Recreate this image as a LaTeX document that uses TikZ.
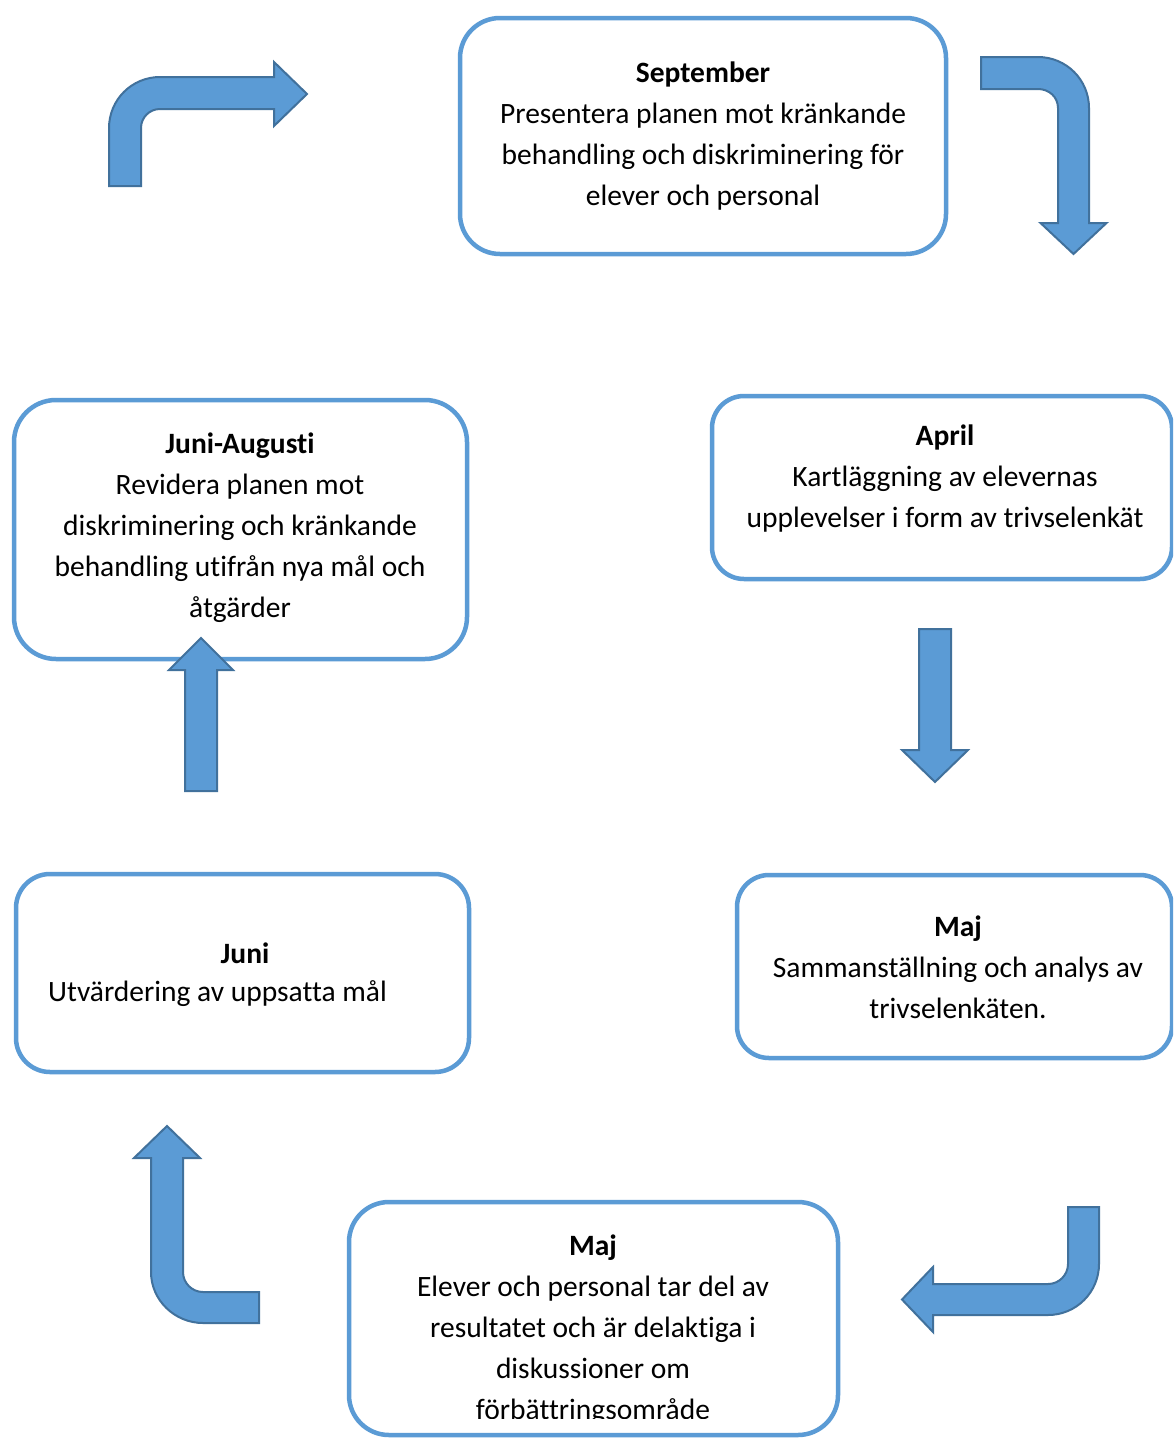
\documentclass[tikz,border=0pt]{standalone}
\usepackage{fontspec}
\setmainfont{Carlito}[Ligatures=NoCommon]
\definecolor{boxblue}{HTML}{5B9BD5}
\definecolor{arrowedge}{HTML}{41719C}
\begin{document}
\begin{tikzpicture}[x=1pt,y=-1pt,
  roundbox/.style={draw=boxblue, line width=4.5pt, fill=white, rounded corners=#1, inner sep=0pt},
  boxtext/.style={font=\fontsize{29.5}{41}\selectfont, align=center, inner sep=0pt},
  blockarrow/.style={fill=boxblue, draw=arrowedge, line width=2pt, line join=miter}]
\useasboundingbox (0,0) rectangle (1173,1438);
\fill[white] (0,0) rectangle (1173,1438);
\clip (0,0) rectangle (1173,1438);

% boxes
\node[roundbox=40pt, minimum width=486pt, minimum height=236pt] (sepbox) at (703,136) {};
\node[roundbox=32pt, minimum width=460pt, minimum height=183pt] (aprbox) at (942,487.5) {};
\node[roundbox=32pt, minimum width=435pt, minimum height=183pt] (majabox) at (954.5,966.5) {};
\node[roundbox=42pt, minimum width=453pt, minimum height=259pt] (jabox) at (240.5,529.5) {};
\node[roundbox=34pt, minimum width=453pt, minimum height=198pt] (junbox) at (242.5,973) {};
\node[roundbox=40pt, minimum width=489pt, minimum height=233pt] (majbbox) at (593.5,1318.5) {};

% texts
\node[boxtext] (septext) at (703,136.5) {\textbf{September}\\Presentera planen mot kränkande\\behandling och diskriminering för\\elever och personal};
\node[boxtext] (aprtext) at (945,479) {\textbf{April}\\Kartläggning av elevernas\\upplevelser i form av trivselenkät};
\node[boxtext] (majatext) at (958,967) {\textbf{Maj}\\Sammanställning och analys av\\trivselenkäten.};
\node[boxtext] (jatext) at (240,528) {\textbf{Juni-Augusti}\\Revidera planen mot\\diskriminering och kränkande\\behandling utifrån nya mål och\\åtgärder};
\node[boxtext] (juntitle) at (245,953) {\textbf{Juni}};
\node[boxtext, anchor=west] (juntext) at (48,994) {Utvärdering av uppsatta mål};
\begin{scope}
\clip (349,1202) rectangle (838,1418);
\node[boxtext] (majbtext) at (593,1330) {\textbf{Maj}\\Elever och personal tar del av\\resultatet och är delaktiga i\\diskussioner om\\förbättringsområde};
\end{scope}

% arrows
% top-left bent arrow (up then right)
\draw[blockarrow] (109,186) -- (109,128) .. controls (109,99.8) and (131.8,77) .. (160,77)
  -- (274,77) -- (274,62) -- (307,94) -- (274,126) -- (274,109) -- (160,109)
  .. controls (149.5,109) and (141,117.5) .. (141,128) -- (141,186) -- cycle;
% top-right bent arrow (right then down)
\draw[blockarrow] (981,57) -- (1038,57) .. controls (1066.2,57) and (1089,79.8) .. (1089,108)
  -- (1089,223) -- (1106.5,223) -- (1073.5,254) -- (1040.5,223) -- (1058,223) -- (1058,108)
  .. controls (1058,97) and (1049,89) .. (1038,89) -- (981,89) -- cycle;
% right straight down arrow
\draw[blockarrow] (919,629) -- (951,629) -- (951,750) -- (968,750) -- (935,782) -- (902,750) -- (919,750) -- cycle;
% left straight up arrow
\draw[blockarrow] (185,791) -- (217,791) -- (217,670) -- (233,670) -- (201,638) -- (169,670) -- (185,670) -- cycle;
% bottom-right bent arrow (down then left)
\draw[blockarrow] (1068,1207) -- (1099,1207) -- (1099,1264) .. controls (1099,1292.2) and (1076.2,1315) .. (1048,1315)
  -- (933,1315) -- (933,1332) -- (902,1299.5) -- (933,1267) -- (933,1284) -- (1048,1284)
  .. controls (1059,1284) and (1068,1275) .. (1068,1264) -- cycle;
% bottom-left bent arrow (left then up)
\draw[blockarrow] (167,1126) -- (200,1158) -- (183,1158) -- (183,1272) .. controls (183,1283) and (192,1292) .. (203,1292)
  -- (259,1292) -- (259,1323) -- (203,1323) .. controls (174.8,1323) and (151,1300.2) .. (151,1272)
  -- (151,1158) -- (134,1158) -- cycle;
\end{tikzpicture}
\end{document}
